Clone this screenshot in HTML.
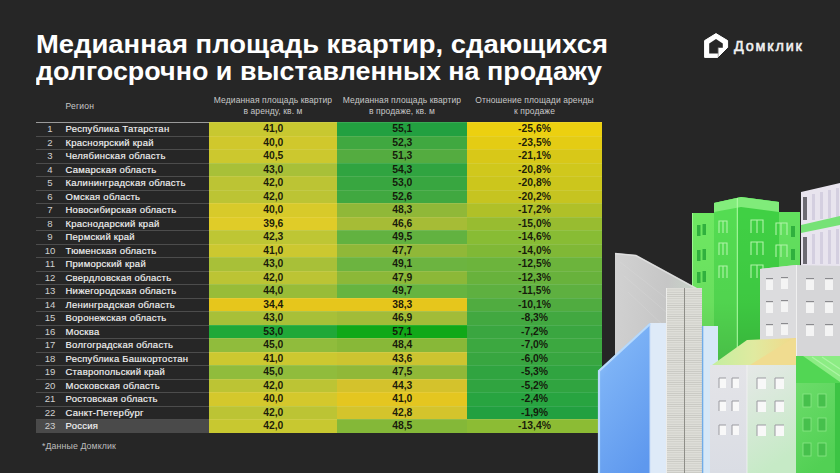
<!DOCTYPE html><html><head><meta charset="utf-8"><style>
*{margin:0;padding:0;box-sizing:border-box}
html,body{width:840px;height:473px;overflow:hidden;background:#262626}
body{position:relative;font-family:"Liberation Sans",sans-serif;color:#fff}
.t{position:absolute;white-space:nowrap}
.title{left:36px;font-size:25px;font-weight:bold;line-height:30px;color:#fff;transform-origin:0 0}
.hd{font-size:8.5px;color:#c8c8c8;text-align:center;line-height:10.6px;letter-spacing:0.1px}
.n{position:absolute;left:35.5px;width:29px;text-align:center;font-size:9.6px;color:#d0d0d0;white-space:nowrap}
.nm{position:absolute;left:65.5px;font-size:9.5px;color:#f4f4f4;white-space:nowrap;letter-spacing:0.25px;-webkit-text-stroke:0.15px #f4f4f4}
.c{position:absolute;text-align:center;font-size:10.4px;font-weight:bold;color:rgba(18,18,8,.95)}
.ln{position:absolute;height:1px}

</style></head><body>
<div class="t title" style="top:29px;transform:scaleX(1.097)">Медианная площадь квартир, сдающихся</div>
<div class="t title" style="top:55.5px;transform:scaleX(1.0765)">долгосрочно и выставленных на продажу</div>
<div class="t hd" style="left:65.5px;top:101px;text-align:left;letter-spacing:0.25px">Регион</div>
<div class="t hd" style="left:209px;width:128px;top:95px">Медианная площадь квартир<br>в аренду, кв. м</div>
<div class="t hd" style="left:337px;width:130px;top:95px">Медианная площадь квартир<br>в продаже, кв. м</div>
<div class="t hd" style="left:467px;width:135px;top:95px">Отношение площади аренды<br>к продаже</div>
<div class="c" style="left:209.00px;top:122.00px;width:128.60px;height:14.11px;line-height:14.21px;background:#c8c830">41,0</div>
<div class="c" style="left:337.00px;top:122.00px;width:130.60px;height:14.11px;line-height:14.21px;background:#22a040">55,1</div>
<div class="c" style="left:467.00px;top:122.00px;width:135.00px;height:14.11px;line-height:14.21px;background:#ecd010">-25,6%</div>
<div class="ln" style="left:35.5px;top:122.00px;width:173.50px;background:#9a9a9a"></div>
<div class="ln" style="left:209.00px;top:122.00px;width:393.00px;background:rgba(255,255,255,0.10)"></div>
<div class="n" style="top:123.00px;line-height:12.91px">1</div><div class="nm" style="top:123.00px;line-height:12.51px">Республика Татарстан</div>
<div class="c" style="left:209.00px;top:135.51px;width:128.60px;height:14.11px;line-height:14.21px;background:#d0c82c">40,0</div>
<div class="c" style="left:337.00px;top:135.51px;width:130.60px;height:14.11px;line-height:14.21px;background:#40a840">52,3</div>
<div class="c" style="left:467.00px;top:135.51px;width:135.00px;height:14.11px;line-height:14.21px;background:#e4cc14">-23,5%</div>
<div class="ln" style="left:35.5px;top:135.51px;width:173.50px;background:#4c4c4c"></div>
<div class="ln" style="left:209.00px;top:135.51px;width:393.00px;background:rgba(255,255,255,0.10)"></div>
<div class="n" style="top:136.51px;line-height:12.91px">2</div><div class="nm" style="top:136.51px;line-height:12.51px">Красноярский край</div>
<div class="c" style="left:209.00px;top:149.02px;width:128.60px;height:14.11px;line-height:14.21px;background:#ccc82e">40,5</div>
<div class="c" style="left:337.00px;top:149.02px;width:130.60px;height:14.11px;line-height:14.21px;background:#54ac40">51,3</div>
<div class="c" style="left:467.00px;top:149.02px;width:135.00px;height:14.11px;line-height:14.21px;background:#d8c818">-21,1%</div>
<div class="ln" style="left:35.5px;top:149.02px;width:173.50px;background:#4c4c4c"></div>
<div class="ln" style="left:209.00px;top:149.02px;width:393.00px;background:rgba(255,255,255,0.10)"></div>
<div class="n" style="top:150.02px;line-height:12.91px">3</div><div class="nm" style="top:150.02px;line-height:12.51px">Челябинская область</div>
<div class="c" style="left:209.00px;top:162.53px;width:128.60px;height:14.11px;line-height:14.21px;background:#a8c038">43,0</div>
<div class="c" style="left:337.00px;top:162.53px;width:130.60px;height:14.11px;line-height:14.21px;background:#30a440">54,3</div>
<div class="c" style="left:467.00px;top:162.53px;width:135.00px;height:14.11px;line-height:14.21px;background:#d0c81c">-20,8%</div>
<div class="ln" style="left:35.5px;top:162.53px;width:173.50px;background:#4c4c4c"></div>
<div class="ln" style="left:209.00px;top:162.53px;width:393.00px;background:rgba(255,255,255,0.10)"></div>
<div class="n" style="top:163.53px;line-height:12.91px">4</div><div class="nm" style="top:163.53px;line-height:12.51px">Самарская область</div>
<div class="c" style="left:209.00px;top:176.04px;width:128.60px;height:14.11px;line-height:14.21px;background:#bcc434">42,0</div>
<div class="c" style="left:337.00px;top:176.04px;width:130.60px;height:14.11px;line-height:14.21px;background:#38a640">53,0</div>
<div class="c" style="left:467.00px;top:176.04px;width:135.00px;height:14.11px;line-height:14.21px;background:#ccc61c">-20,8%</div>
<div class="ln" style="left:35.5px;top:176.04px;width:173.50px;background:#4c4c4c"></div>
<div class="ln" style="left:209.00px;top:176.04px;width:393.00px;background:rgba(255,255,255,0.10)"></div>
<div class="n" style="top:177.04px;line-height:12.91px">5</div><div class="nm" style="top:177.04px;line-height:12.51px">Калининградская область</div>
<div class="c" style="left:209.00px;top:189.55px;width:128.60px;height:14.11px;line-height:14.21px;background:#bcc434">42,0</div>
<div class="c" style="left:337.00px;top:189.55px;width:130.60px;height:14.11px;line-height:14.21px;background:#40a840">52,6</div>
<div class="c" style="left:467.00px;top:189.55px;width:135.00px;height:14.11px;line-height:14.21px;background:#c6c420">-20,2%</div>
<div class="ln" style="left:35.5px;top:189.55px;width:173.50px;background:#4c4c4c"></div>
<div class="ln" style="left:209.00px;top:189.55px;width:393.00px;background:rgba(255,255,255,0.10)"></div>
<div class="n" style="top:190.55px;line-height:12.91px">6</div><div class="nm" style="top:190.55px;line-height:12.51px">Омская область</div>
<div class="c" style="left:209.00px;top:203.06px;width:128.60px;height:14.11px;line-height:14.21px;background:#d8ca2a">40,0</div>
<div class="c" style="left:337.00px;top:203.06px;width:130.60px;height:14.11px;line-height:14.21px;background:#90b838">48,3</div>
<div class="c" style="left:467.00px;top:203.06px;width:135.00px;height:14.11px;line-height:14.21px;background:#b0c028">-17,2%</div>
<div class="ln" style="left:35.5px;top:203.06px;width:173.50px;background:#4c4c4c"></div>
<div class="ln" style="left:209.00px;top:203.06px;width:393.00px;background:rgba(255,255,255,0.10)"></div>
<div class="n" style="top:204.06px;line-height:12.91px">7</div><div class="nm" style="top:204.06px;line-height:12.51px">Новосибирская область</div>
<div class="c" style="left:209.00px;top:216.57px;width:128.60px;height:14.11px;line-height:14.21px;background:#e0cc28">39,6</div>
<div class="c" style="left:337.00px;top:216.57px;width:130.60px;height:14.11px;line-height:14.21px;background:#a6bc36">46,6</div>
<div class="c" style="left:467.00px;top:216.57px;width:135.00px;height:14.11px;line-height:14.21px;background:#98bc30">-15,0%</div>
<div class="ln" style="left:35.5px;top:216.57px;width:173.50px;background:#4c4c4c"></div>
<div class="ln" style="left:209.00px;top:216.57px;width:393.00px;background:rgba(255,255,255,0.10)"></div>
<div class="n" style="top:217.57px;line-height:12.91px">8</div><div class="nm" style="top:217.57px;line-height:12.51px">Краснодарский край</div>
<div class="c" style="left:209.00px;top:230.08px;width:128.60px;height:14.11px;line-height:14.21px;background:#bec634">42,3</div>
<div class="c" style="left:337.00px;top:230.08px;width:130.60px;height:14.11px;line-height:14.21px;background:#62b240">49,5</div>
<div class="c" style="left:467.00px;top:230.08px;width:135.00px;height:14.11px;line-height:14.21px;background:#88bc34">-14,6%</div>
<div class="ln" style="left:35.5px;top:230.08px;width:173.50px;background:#4c4c4c"></div>
<div class="ln" style="left:209.00px;top:230.08px;width:393.00px;background:rgba(255,255,255,0.10)"></div>
<div class="n" style="top:231.08px;line-height:12.91px">9</div><div class="nm" style="top:231.08px;line-height:12.51px">Пермский край</div>
<div class="c" style="left:209.00px;top:243.59px;width:128.60px;height:14.11px;line-height:14.21px;background:#ccc830">41,0</div>
<div class="c" style="left:337.00px;top:243.59px;width:130.60px;height:14.11px;line-height:14.21px;background:#90b838">47,7</div>
<div class="c" style="left:467.00px;top:243.59px;width:135.00px;height:14.11px;line-height:14.21px;background:#80b836">-14,0%</div>
<div class="ln" style="left:35.5px;top:243.59px;width:173.50px;background:#4c4c4c"></div>
<div class="ln" style="left:209.00px;top:243.59px;width:393.00px;background:rgba(255,255,255,0.10)"></div>
<div class="n" style="top:244.59px;line-height:12.91px">10</div><div class="nm" style="top:244.59px;line-height:12.51px">Тюменская область</div>
<div class="c" style="left:209.00px;top:257.10px;width:128.60px;height:14.11px;line-height:14.21px;background:#a8c038">43,0</div>
<div class="c" style="left:337.00px;top:257.10px;width:130.60px;height:14.11px;line-height:14.21px;background:#6cb440">49,1</div>
<div class="c" style="left:467.00px;top:257.10px;width:135.00px;height:14.11px;line-height:14.21px;background:#6cb43c">-12,5%</div>
<div class="ln" style="left:35.5px;top:257.10px;width:173.50px;background:#4c4c4c"></div>
<div class="ln" style="left:209.00px;top:257.10px;width:393.00px;background:rgba(255,255,255,0.10)"></div>
<div class="n" style="top:258.10px;line-height:12.91px">11</div><div class="nm" style="top:258.10px;line-height:12.51px">Приморский край</div>
<div class="c" style="left:209.00px;top:270.61px;width:128.60px;height:14.11px;line-height:14.21px;background:#bcc434">42,0</div>
<div class="c" style="left:337.00px;top:270.61px;width:130.60px;height:14.11px;line-height:14.21px;background:#8cb838">47,9</div>
<div class="c" style="left:467.00px;top:270.61px;width:135.00px;height:14.11px;line-height:14.21px;background:#68b23c">-12,3%</div>
<div class="ln" style="left:35.5px;top:270.61px;width:173.50px;background:#4c4c4c"></div>
<div class="ln" style="left:209.00px;top:270.61px;width:393.00px;background:rgba(255,255,255,0.10)"></div>
<div class="n" style="top:271.61px;line-height:12.91px">12</div><div class="nm" style="top:271.61px;line-height:12.51px">Свердловская область</div>
<div class="c" style="left:209.00px;top:284.12px;width:128.60px;height:14.11px;line-height:14.21px;background:#98bc38">44,0</div>
<div class="c" style="left:337.00px;top:284.12px;width:130.60px;height:14.11px;line-height:14.21px;background:#66b440">49,7</div>
<div class="c" style="left:467.00px;top:284.12px;width:135.00px;height:14.11px;line-height:14.21px;background:#5eb040">-11,5%</div>
<div class="ln" style="left:35.5px;top:284.12px;width:173.50px;background:#4c4c4c"></div>
<div class="ln" style="left:209.00px;top:284.12px;width:393.00px;background:rgba(255,255,255,0.10)"></div>
<div class="n" style="top:285.12px;line-height:12.91px">13</div><div class="nm" style="top:285.12px;line-height:12.51px">Нижегородская область</div>
<div class="c" style="left:209.00px;top:297.63px;width:128.60px;height:14.11px;line-height:14.21px;background:#e6c61c">34,4</div>
<div class="c" style="left:337.00px;top:297.63px;width:130.60px;height:14.11px;line-height:14.21px;background:#e6c61c">38,3</div>
<div class="c" style="left:467.00px;top:297.63px;width:135.00px;height:14.11px;line-height:14.21px;background:#50ac40">-10,1%</div>
<div class="ln" style="left:35.5px;top:297.63px;width:173.50px;background:#4c4c4c"></div>
<div class="ln" style="left:209.00px;top:297.63px;width:393.00px;background:rgba(255,255,255,0.10)"></div>
<div class="n" style="top:298.63px;line-height:12.91px">14</div><div class="nm" style="top:298.63px;line-height:12.51px">Ленинградская область</div>
<div class="c" style="left:209.00px;top:311.14px;width:128.60px;height:14.11px;line-height:14.21px;background:#a8c038">43,0</div>
<div class="c" style="left:337.00px;top:311.14px;width:130.60px;height:14.11px;line-height:14.21px;background:#a2bc38">46,9</div>
<div class="c" style="left:467.00px;top:311.14px;width:135.00px;height:14.11px;line-height:14.21px;background:#42a840">-8,3%</div>
<div class="ln" style="left:35.5px;top:311.14px;width:173.50px;background:#4c4c4c"></div>
<div class="ln" style="left:209.00px;top:311.14px;width:393.00px;background:rgba(255,255,255,0.10)"></div>
<div class="n" style="top:312.14px;line-height:12.91px">15</div><div class="nm" style="top:312.14px;line-height:12.51px">Воронежская область</div>
<div class="c" style="left:209.00px;top:324.65px;width:128.60px;height:14.11px;line-height:14.21px;background:#20a838">53,0</div>
<div class="c" style="left:337.00px;top:324.65px;width:130.60px;height:14.11px;line-height:14.21px;background:#10a818">57,1</div>
<div class="c" style="left:467.00px;top:324.65px;width:135.00px;height:14.11px;line-height:14.21px;background:#3aa640">-7,2%</div>
<div class="ln" style="left:35.5px;top:324.65px;width:173.50px;background:#4c4c4c"></div>
<div class="ln" style="left:209.00px;top:324.65px;width:393.00px;background:rgba(255,255,255,0.10)"></div>
<div class="n" style="top:325.65px;line-height:12.91px">16</div><div class="nm" style="top:325.65px;line-height:12.51px">Москва</div>
<div class="c" style="left:209.00px;top:338.16px;width:128.60px;height:14.11px;line-height:14.21px;background:#90bc3c">45,0</div>
<div class="c" style="left:337.00px;top:338.16px;width:130.60px;height:14.11px;line-height:14.21px;background:#88b838">48,4</div>
<div class="c" style="left:467.00px;top:338.16px;width:135.00px;height:14.11px;line-height:14.21px;background:#3ca840">-7,0%</div>
<div class="ln" style="left:35.5px;top:338.16px;width:173.50px;background:#4c4c4c"></div>
<div class="ln" style="left:209.00px;top:338.16px;width:393.00px;background:rgba(255,255,255,0.10)"></div>
<div class="n" style="top:339.16px;line-height:12.91px">17</div><div class="nm" style="top:339.16px;line-height:12.51px">Волгоградская область</div>
<div class="c" style="left:209.00px;top:351.67px;width:128.60px;height:14.11px;line-height:14.21px;background:#ccc830">41,0</div>
<div class="c" style="left:337.00px;top:351.67px;width:130.60px;height:14.11px;line-height:14.21px;background:#ccc430">43,6</div>
<div class="c" style="left:467.00px;top:351.67px;width:135.00px;height:14.11px;line-height:14.21px;background:#38a640">-6,0%</div>
<div class="ln" style="left:35.5px;top:351.67px;width:173.50px;background:#4c4c4c"></div>
<div class="ln" style="left:209.00px;top:351.67px;width:393.00px;background:rgba(255,255,255,0.10)"></div>
<div class="n" style="top:352.67px;line-height:12.91px">18</div><div class="nm" style="top:352.67px;line-height:12.51px">Республика Башкортостан</div>
<div class="c" style="left:209.00px;top:365.18px;width:128.60px;height:14.11px;line-height:14.21px;background:#90bc3c">45,0</div>
<div class="c" style="left:337.00px;top:365.18px;width:130.60px;height:14.11px;line-height:14.21px;background:#90b838">47,5</div>
<div class="c" style="left:467.00px;top:365.18px;width:135.00px;height:14.11px;line-height:14.21px;background:#30a440">-5,3%</div>
<div class="ln" style="left:35.5px;top:365.18px;width:173.50px;background:#4c4c4c"></div>
<div class="ln" style="left:209.00px;top:365.18px;width:393.00px;background:rgba(255,255,255,0.10)"></div>
<div class="n" style="top:366.18px;line-height:12.91px">19</div><div class="nm" style="top:366.18px;line-height:12.51px">Ставропольский край</div>
<div class="c" style="left:209.00px;top:378.69px;width:128.60px;height:14.11px;line-height:14.21px;background:#bcc434">42,0</div>
<div class="c" style="left:337.00px;top:378.69px;width:130.60px;height:14.11px;line-height:14.21px;background:#d4c22c">44,3</div>
<div class="c" style="left:467.00px;top:378.69px;width:135.00px;height:14.11px;line-height:14.21px;background:#30a440">-5,2%</div>
<div class="ln" style="left:35.5px;top:378.69px;width:173.50px;background:#4c4c4c"></div>
<div class="ln" style="left:209.00px;top:378.69px;width:393.00px;background:rgba(255,255,255,0.10)"></div>
<div class="n" style="top:379.69px;line-height:12.91px">20</div><div class="nm" style="top:379.69px;line-height:12.51px">Московская область</div>
<div class="c" style="left:209.00px;top:392.20px;width:128.60px;height:14.11px;line-height:14.21px;background:#d4c82c">40,0</div>
<div class="c" style="left:337.00px;top:392.20px;width:130.60px;height:14.11px;line-height:14.21px;background:#e4c620">41,0</div>
<div class="c" style="left:467.00px;top:392.20px;width:135.00px;height:14.11px;line-height:14.21px;background:#28a440">-2,4%</div>
<div class="ln" style="left:35.5px;top:392.20px;width:173.50px;background:#4c4c4c"></div>
<div class="ln" style="left:209.00px;top:392.20px;width:393.00px;background:rgba(255,255,255,0.10)"></div>
<div class="n" style="top:393.20px;line-height:12.91px">21</div><div class="nm" style="top:393.20px;line-height:12.51px">Ростовская область</div>
<div class="c" style="left:209.00px;top:405.71px;width:128.60px;height:14.11px;line-height:14.21px;background:#bcc434">42,0</div>
<div class="c" style="left:337.00px;top:405.71px;width:130.60px;height:14.11px;line-height:14.21px;background:#d4c42c">42,8</div>
<div class="c" style="left:467.00px;top:405.71px;width:135.00px;height:14.11px;line-height:14.21px;background:#22a040">-1,9%</div>
<div class="ln" style="left:35.5px;top:405.71px;width:173.50px;background:#4c4c4c"></div>
<div class="ln" style="left:209.00px;top:405.71px;width:393.00px;background:rgba(255,255,255,0.10)"></div>
<div class="n" style="top:406.71px;line-height:12.91px">22</div><div class="nm" style="top:406.71px;line-height:12.51px">Санкт-Петербург</div>
<div style="position:absolute;left:35.5px;top:419.22px;width:173.50px;height:13.51px;background:#4a4a4a"></div>
<div class="c" style="left:209.00px;top:419.22px;width:128.60px;height:14.11px;line-height:14.21px;background:#c8c830">42,0</div>
<div class="c" style="left:337.00px;top:419.22px;width:130.60px;height:14.11px;line-height:14.21px;background:#84b838">48,5</div>
<div class="c" style="left:467.00px;top:419.22px;width:135.00px;height:14.11px;line-height:14.21px;background:#8cbc34">-13,4%</div>
<div class="ln" style="left:35.5px;top:419.22px;width:173.50px;background:#4c4c4c"></div>
<div class="ln" style="left:209.00px;top:419.22px;width:393.00px;background:rgba(255,255,255,0.10)"></div>
<div class="n" style="top:420.22px;line-height:12.91px">23</div><div class="nm" style="top:420.22px;line-height:12.51px">Россия</div>
<div class="t" style="left:42px;top:441px;font-size:8.8px;letter-spacing:0.1px;color:#bdbdbd">*Данные Домклик</div>
<svg style="position:absolute;left:0;top:0" width="840" height="80" viewBox="0 0 840 80">
<path d="M716,33.6 L727.6,40.6 L727.6,47.4 L717.6,57.4 L704.6,57.4 L704.6,40.6 Z" fill="#fff" stroke="#fff" stroke-width="1" stroke-linejoin="round"/>
<path d="M716,39 L722.8,43.6 L722.8,47.8 L718.2,47.8 L718.2,53.6 L709.2,53.6 L709.2,43.6 Z" fill="#262626"/>
<path d="M718.2,47.6 L718.2,57" stroke="#8a8a8a" stroke-width="0.7"/>
</svg>
<div class="t" style="left:734px;top:37.8px;font-size:14.4px;letter-spacing:1.8px;color:#f2f2f2;-webkit-text-stroke:0.55px #f2f2f2">Домклик</div>
<svg style="position:absolute;left:0;top:0" width="840" height="473" viewBox="0 0 840 473">
<defs>
<linearGradient id="gt" x1="0" y1="0" x2="1" y2="0"><stop offset="0" stop-color="#6ee85e"/><stop offset="0.45" stop-color="#48dc4c"/><stop offset="0.7" stop-color="#3ed446"/><stop offset="1" stop-color="#6ae466"/></linearGradient>
<linearGradient id="bl" x1="0" y1="0" x2="0.6" y2="1"><stop offset="0" stop-color="#a4d0fa"/><stop offset="0.3" stop-color="#7cb2f6"/><stop offset="1" stop-color="#5e98ee"/></linearGradient>
<linearGradient id="gv" x1="0" y1="0" x2="0" y2="1"><stop offset="0" stop-color="#000" stop-opacity="0"/><stop offset="0.6" stop-color="#000" stop-opacity="0.04"/><stop offset="1" stop-color="#000" stop-opacity="0.14"/></linearGradient>
<linearGradient id="sl" x1="0" y1="0" x2="1" y2="0.3"><stop offset="0" stop-color="#d2d2d2"/><stop offset="0.6" stop-color="#c6c6c6"/><stop offset="1" stop-color="#c8d8c8"/></linearGradient>
<linearGradient id="wh" x1="0" y1="0" x2="0.3" y2="1"><stop offset="0" stop-color="#e6e8e8"/><stop offset="1" stop-color="#c6eac6"/></linearGradient>
<linearGradient id="wl" x1="0" y1="0" x2="0" y2="1"><stop offset="0" stop-color="#e4e4e8"/><stop offset="1" stop-color="#dadde4"/></linearGradient>
<linearGradient id="rf" x1="0" y1="0" x2="1" y2="0"><stop offset="0" stop-color="#c4eea0"/><stop offset="0.5" stop-color="#e0eaa0"/><stop offset="1" stop-color="#f2d888"/></linearGradient>
<linearGradient id="gh" x1="0" y1="0" x2="0.4" y2="1"><stop offset="0" stop-color="#6cdc6a"/><stop offset="1" stop-color="#52d054"/></linearGradient>
<pattern id="tx" x="0" y="0" width="4" height="2.2" patternUnits="userSpaceOnUse"><rect width="4" height="2.2" fill="#dfdfda"/><rect y="1.4" width="4" height="0.8" fill="#c8c8c2"/></pattern>
</defs>
<!-- white tower far right -->
<polygon points="801,192 840,183 840,270 801,270" fill="#e8e4ee"/>
<g fill="#d4cfe0">
<rect x="812" y="194" width="3" height="26"/><rect x="820" y="192" width="3" height="27"/><rect x="828" y="190" width="3" height="28"/><rect x="836" y="188" width="3" height="29"/>
<rect x="812" y="234" width="3" height="30"/><rect x="820" y="232" width="3" height="32"/><rect x="828" y="230" width="3" height="34"/><rect x="836" y="229" width="3" height="35"/>
</g>
<rect x="803" y="197" width="4" height="23" fill="#6c6a72"/>
<rect x="803" y="237" width="4" height="27" fill="#6c6a72"/>
<polygon points="801,225 840,216 840,225 801,233" fill="#76e276"/>
<!-- green tower -->
<polygon points="692,213 714,213 714,203 741,197 779,202 779,212 800,212 800,362 692,362" fill="#48d84a"/>
<polygon points="692,213 714,213 714,362 692,362" fill="#6ee862"/>
<polygon points="714,203 737,198 737,362 714,362" fill="#54dc52"/>
<polygon points="737,198 741,197 779,202 779,362 737,362" fill="#40d044"/>
<polygon points="779,212 800,212 800,362 779,362" fill="#62e05e"/>
<polygon points="714,203 741,197 779,202 779,212 741,207 714,212" fill="#8cf084" opacity="0.85"/>
<polygon points="692,213 800,213 800,362 692,362" fill="url(#gv)"/>
<line x1="737.3" y1="198" x2="737.3" y2="362" stroke="#b4fcaa" stroke-width="1"/>
<line x1="692.5" y1="213" x2="692.5" y2="362" stroke="#9cf890" stroke-width="1"/>
<g fill="#30b03e">
<rect x="697" y="225" width="3.5" height="11"/><rect x="702.5" y="224" width="3.5" height="11"/>
<rect x="697" y="250" width="3.5" height="11"/><rect x="702.5" y="249" width="3.5" height="11"/>
<rect x="697" y="272" width="3.5" height="11"/><rect x="702.5" y="271" width="3.5" height="11"/>
<rect x="791" y="226" width="4" height="11"/><rect x="791" y="249" width="4" height="11"/>
</g>
<g fill="none" stroke="#b0f4a8" stroke-width="1.1">
<path d="M719,233 L719,221 L727,221 L727,233 M723,221 L723,233"/>
<path d="M751,233 L751,220 L763,220 L763,233 M757,220 L757,233"/>
<path d="M776,235 L776,223 L787,223 L787,235 M781,223 L781,235"/>
<path d="M719,255 L719,243 L727,243 L727,255 M723,243 L723,255"/>
<path d="M751,255 L751,242 L763,242 L763,255 M757,242 L757,255"/>
<path d="M776,257 L776,245 L787,245 L787,257 M781,245 L781,257"/>
<path d="M719,278 L719,266 L727,266 L727,278 M723,266 L723,278"/>
<path d="M751,278 L751,265 L763,265 L763,278 M757,265 L757,278"/>
</g>
<!-- gray slab -->
<polygon points="615,253 636,255 700,290 700,473 615,473" fill="url(#sl)"/>
<polyline points="615,253.5 636,255.5 700,290.5" fill="none" stroke="#e4e4e4" stroke-width="1.5" opacity="0.8"/>
<g stroke="#e0e0e0" stroke-width="0.8" opacity="0.35">
<line x1="620" y1="262" x2="666" y2="298"/><line x1="624" y1="276" x2="666" y2="312"/><line x1="628" y1="292" x2="666" y2="328"/>
</g>
<rect x="666" y="288" width="36" height="185" fill="url(#tx)"/>
<line x1="684.5" y1="288" x2="684.5" y2="473" stroke="#8e8e88" stroke-width="1"/>
<line x1="666.5" y1="288" x2="666.5" y2="473" stroke="#ececea" stroke-width="1"/>
<!-- blue panel -->
<polygon points="598,371 650,323 666,323 666,473 598,473" fill="url(#bl)"/>
<polygon points="650,323 666,323 666,473 650,473" fill="#deeaf8"/>
<line x1="650" y1="323" x2="650" y2="473" stroke="#c8dcf8" stroke-width="1"/>
<polyline points="599,473 599,371 650,324" fill="none" stroke="#b8dafc" stroke-width="2.2"/>
<!-- light blue right panel -->
<rect x="702" y="326" width="16" height="147" fill="#d6e8f8"/>
<line x1="702.6" y1="326" x2="702.6" y2="473" stroke="#70ace8" stroke-width="1.4"/>
<!-- gray mid building -->
<polygon points="760,269 796,265 840,266 840,356 760,356" fill="#d6d6d8"/>
<polygon points="760,269 796,265 796,356 760,356" fill="#dcdcde"/>
<line x1="796.5" y1="265" x2="796.5" y2="356" stroke="#f0f0f0" stroke-width="1"/>
<g fill="#f4f4f4">
<rect x="766" y="279" width="7" height="11"/><rect x="781" y="278" width="7" height="11"/>
<rect x="766" y="302" width="7" height="11"/><rect x="781" y="301" width="7" height="11"/>
<rect x="766" y="325" width="7" height="11"/><rect x="781" y="324" width="7" height="11"/>
<rect x="806" y="279" width="8" height="11"/><rect x="825" y="279" width="8" height="11"/>
<rect x="806" y="302" width="8" height="11"/><rect x="825" y="302" width="8" height="11"/>
<rect x="806" y="325" width="8" height="11"/><rect x="825" y="325" width="8" height="11"/>
</g>
<g fill="#8a8a8e">
<rect x="766" y="278" width="7" height="1.2"/><rect x="781" y="277" width="7" height="1.2"/>
<rect x="766" y="301" width="7" height="1.2"/><rect x="781" y="300" width="7" height="1.2"/>
<rect x="766" y="324" width="7" height="1.2"/><rect x="781" y="323" width="7" height="1.2"/>
<rect x="806" y="278" width="8" height="1.2"/><rect x="825" y="278" width="8" height="1.2"/>
<rect x="806" y="301" width="8" height="1.2"/><rect x="825" y="301" width="8" height="1.2"/>
<rect x="806" y="324" width="8" height="1.2"/><rect x="825" y="324" width="8" height="1.2"/>
</g>
<!-- white house -->
<polygon points="712,365 747,340 796,338 796,365" fill="url(#rf)"/>
<polygon points="750,365 792,339 796,339 796,365" fill="#f0dc90"/>
<rect x="710" y="365" width="37" height="108" fill="url(#wl)"/>
<rect x="747" y="365" width="49.5" height="108" fill="url(#wh)"/>
<line x1="747" y1="365" x2="747" y2="473" stroke="#f4f4f4" stroke-width="0.8"/>
<g><rect x="719" y="378" width="7" height="10" fill="#f8f8f8"/><path d="M719,388 L719,378 L726,378" fill="none" stroke="#9a9aa0" stroke-width="1"/><rect x="719" y="401" width="7" height="10" fill="#f8f8f8"/><path d="M719,411 L719,401 L726,401" fill="none" stroke="#9a9aa0" stroke-width="1"/><rect x="719" y="425" width="7" height="10" fill="#f8f8f8"/><path d="M719,435 L719,425 L726,425" fill="none" stroke="#9a9aa0" stroke-width="1"/><rect x="732" y="378" width="7" height="10" fill="#f8f8f8"/><path d="M732,388 L732,378 L739,378" fill="none" stroke="#9a9aa0" stroke-width="1"/><rect x="732" y="401" width="7" height="10" fill="#f8f8f8"/><path d="M732,411 L732,401 L739,401" fill="none" stroke="#9a9aa0" stroke-width="1"/><rect x="732" y="425" width="7" height="10" fill="#f8f8f8"/><path d="M732,435 L732,425 L739,425" fill="none" stroke="#9a9aa0" stroke-width="1"/><rect x="757" y="378" width="9" height="11" fill="#f8f8f8"/><path d="M757,389 L757,378 L766,378" fill="none" stroke="#9a9aa0" stroke-width="1"/><rect x="757" y="401" width="9" height="11" fill="#f8f8f8"/><path d="M757,412 L757,401 L766,401" fill="none" stroke="#9a9aa0" stroke-width="1"/><rect x="757" y="425" width="9" height="11" fill="#f8f8f8"/><path d="M757,436 L757,425 L766,425" fill="none" stroke="#9a9aa0" stroke-width="1"/><rect x="775" y="378" width="9" height="11" fill="#f8f8f8"/><path d="M775,389 L775,378 L784,378" fill="none" stroke="#9a9aa0" stroke-width="1"/><rect x="775" y="401" width="9" height="11" fill="#f8f8f8"/><path d="M775,412 L775,401 L784,401" fill="none" stroke="#9a9aa0" stroke-width="1"/><rect x="775" y="425" width="9" height="11" fill="#f8f8f8"/><path d="M775,436 L775,425 L784,425" fill="none" stroke="#9a9aa0" stroke-width="1"/></g>
<!-- green house -->
<polygon points="796,356 840,356 840,383 796,383" fill="#52d654"/>
<polygon points="803,356 840,356 840,382" fill="#8cec84"/>
<g stroke="#b4f8ac" stroke-width="1.2" opacity="0.8"><line x1="812" y1="357" x2="840" y2="376"/><line x1="822" y1="357" x2="840" y2="369"/></g>
<rect x="796" y="383" width="39" height="90" fill="url(#gh)"/>
<rect x="835" y="383" width="5" height="90" fill="#3cc444"/>
<g fill="#46c04c" stroke="#8ce888" stroke-width="0.8">
<rect x="803" y="394" width="8" height="13"/><rect x="818" y="394" width="8" height="13"/>
<rect x="803" y="418" width="8" height="13"/><rect x="818" y="418" width="8" height="13"/>
<rect x="803" y="443" width="8" height="13"/><rect x="818" y="443" width="8" height="13"/>
</g>
</svg>

</body></html>
